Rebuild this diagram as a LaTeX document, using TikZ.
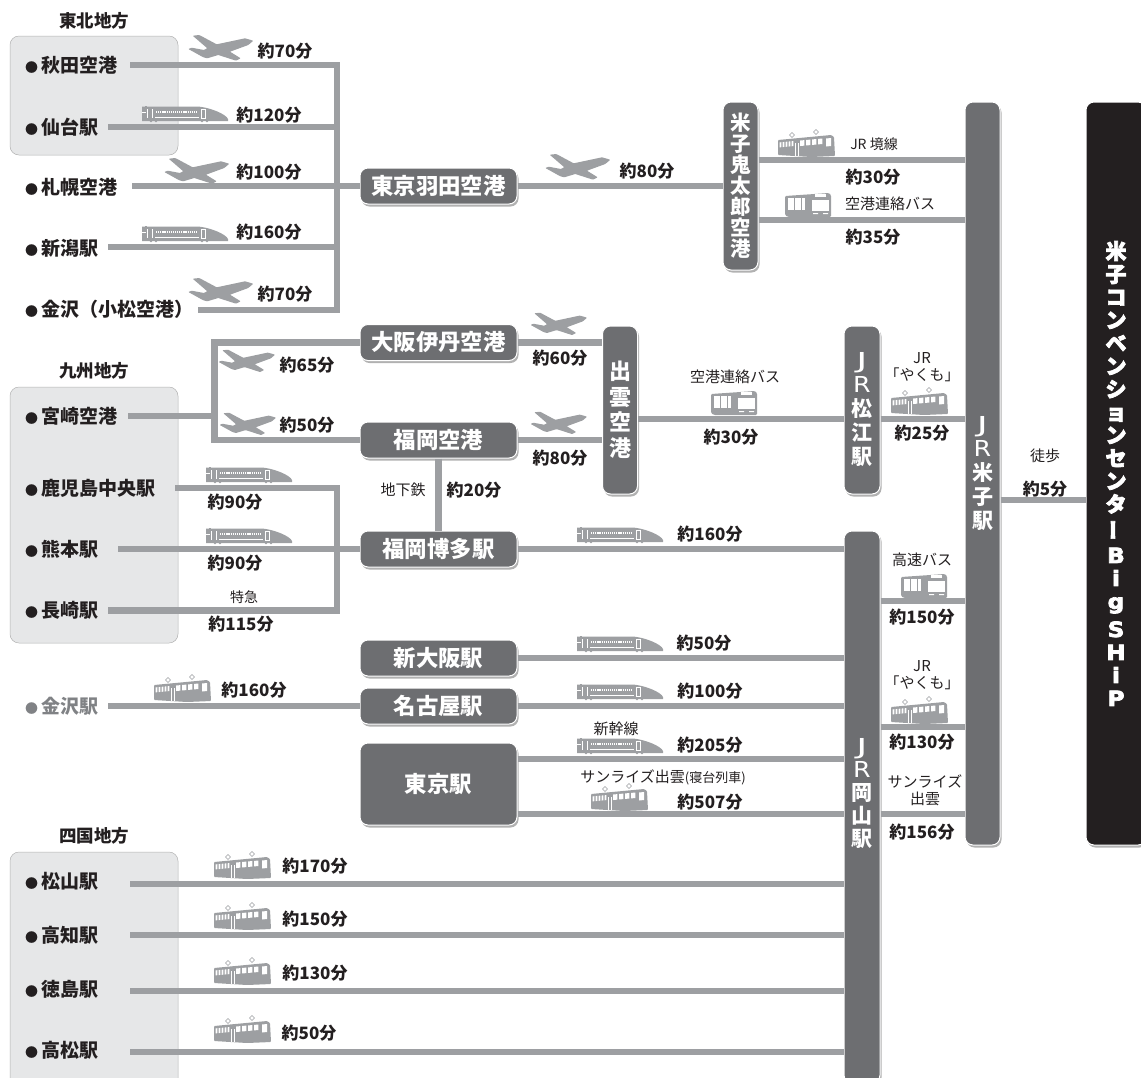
\documentclass[tikz,border=0pt]{standalone}
\usepackage{fontspec}
\setmainfont{Noto Sans CJK JP}
\newfontfamily\widef{DejaVu Sans}
\usetikzlibrary{shadows}
\definecolor{ink}{HTML}{231F20}
\definecolor{hubc}{HTML}{6D6E71}
\definecolor{railc}{HTML}{9D9FA2}
\definecolor{groupc}{HTML}{E6E7E8}
\definecolor{greyt}{HTML}{808285}
\newcommand{\fs}[2]{\fontsize{#1}{#2}\selectfont}
\newcommand{\bul}{\makebox[19pt][c]{\fs{13}{15}●}}
\newcommand{\jj}{{\widef\mdseries\fs{22}{24}\scalebox{1.7}[1]{J}}}
\newcommand{\rr}{{\widef\mdseries\fs{22}{24}\scalebox{1.15}[1]{R}}}
\newcommand{\wl}[1]{{\widef\bfseries\fs{21}{23}\scalebox{1.1}[1]{#1}}}
\newcommand{\hv}[1]{\special{pdf:code 2 Tr 0.7 w}#1\special{pdf:code 0 Tr}}
\tikzset{
  x=1pt,y=-1pt,
  groupbox/.style={draw=black!30,line width=.5pt,fill=groupc,rounded corners=9pt},
  hub/.style={fill=hubc,draw=white,line width=1pt,rounded corners=8pt,inner sep=0pt,text=white,align=center,
     font=\fs{22.4}{24}\bfseries,minimum width=#1,
     drop shadow={shadow xshift=1.5pt,shadow yshift=-2.5pt,fill=black!38,opacity=.8}},
  hub/.default=157pt,
  rail/.style={draw=railc,line width=6.2pt,line join=miter},
  stn/.style={anchor=west,inner sep=0pt,text=ink,font=\fs{19}{21}\bfseries},
  tm/.style={inner sep=0pt,text=ink,font=\fs{17}{19}\bfseries},
  sm/.style={inner sep=0pt,text=ink,align=center,font=\fs{15}{17}},
  grp/.style={inner sep=0pt,text=ink,font=\fs{17.5}{19}\bfseries},
  plane/.pic={\fill[railc,rounded corners=.7pt] (32.3,-7.3) -- (27.3,-3) -- (9,3.7) -- (19.7,10.3) -- (15,12.7) -- (-2.7,7) -- (-13.7,10.3) -- (-17.7,9.3) -- (-32.7,1)
     -- (-29.3,-.3) -- (-17,2) -- (-13.7,.3) -- (-28.3,-12.3) -- (-21.7,-13) -- (-4.3,-3.7) -- (24,-9.7) -- cycle;},
  shink/.pic={\fill[railc] (0,-15.5) -- (56,-15.5) .. controls (68,-14.5) and (84,-8) .. (86,-3) -- (86,-1) -- (0,-1) -- cycle;
     \fill[railc] (3,-16.5) rectangle (5,-15);
     \draw[white,line width=1.8pt,dash pattern=on 1.2pt off .9pt] (14,-10) -- (55,-10);
     \draw[white,line width=.5pt] (5,-13) -- (5,-4) (10,-13) -- (10,-4) (13,-5) -- (57,-5);
     \draw[white,line width=.5pt] (59,-13) rectangle (63,-4);
     \draw[white,line width=.5pt] (0,-10) -- (4,-10);
     \fill[railc] (9,-1) circle (1.4) (14,-1) circle (1.4) (60,-1) circle (1.4) (65,-1) circle (1.4);},
  local/.pic={\fill[railc,rounded corners=.8pt] (0,-17) -- (53,-22) -- (56,-20) -- (57,-1) -- (33,0) -- (0,-2) -- cycle;
     \foreach \a in {1.5,4.5,7.5,10.5,13.5}{\fill[white] (\a,{-14.5-0.09*\a}) -- ++(1.9,-.18) -- ++(0,5) -- ++(-1.9,.18) -- cycle;}
     \foreach \a in {22,28,34,40}{\fill[white] (\a,{-14.5-0.09*\a}) -- ++(4.4,-.4) -- ++(0,5.5) -- ++(-4.4,.4) -- cycle;}
     \fill[white] (48,-18.5) -- (53,-19) -- (53,-11) -- (48,-10.5) -- cycle;
     \draw[white,line width=.5pt] (17,-14) -- (17,-1) (20,-14) -- (20,-1);
     \draw[railc,line width=.6pt,fill=white] (14,-24.5) -- (16.5,-22) -- (14,-19.5) -- (11.5,-22) -- cycle (38,-27.5) -- (40.5,-25) -- (38,-22.5) -- (35.5,-25) -- cycle;},
  busi/.pic={\fill[railc,rounded corners=1.2pt] (0,-21) -- (44,-24) -- (46,-22) -- (46,0) -- (3,0) -- (0,-2) -- cycle;
     \foreach \a in {2.5,6,9.5,13,16.5}{\fill[white] (\a,-19) rectangle (\a+3,-7);}
     \fill[white] (27,-17) rectangle (44,-6.5);
     \fill[white] (30,-23) rectangle (41,-20);
     \fill[white] (28,-4) rectangle (33,-2.8) (38,-4) rectangle (43,-2.8);},
}
\begin{document}
\begin{tikzpicture}
\clip (0,0) rectangle (1141,1077);
% region panels
\node[groupbox,minimum width=168pt,minimum height=119pt,inner sep=0pt] (gT) at (94,95.5) {};
\node[groupbox,minimum width=168pt,minimum height=256pt,inner sep=0pt] (gK) at (94,515) {};
\node[groupbox,minimum width=168pt,minimum height=245pt,inner sep=0pt] (gS) at (94,974.5) {};
\node[grp] (tT) at (94,21) {東北地方};
\node[grp] (tK) at (94,371) {九州地方};
\node[grp] (tS) at (94,836) {四国地方};
% stations
\node[stn] (n1) at (22,65) {\bul 秋田空港};
\node[stn] (n2) at (22,127) {\bul 仙台駅};
\node[stn] (n3) at (22,187) {\bul 札幌空港};
\node[stn] (n4) at (22,248) {\bul 新潟駅};
\node[stn] (n5) at (22,309) {\bul 金沢（小松空港）};
\node[stn] (n6) at (22,416) {\bul 宮崎空港};
\node[stn] (n7) at (22,488) {\bul 鹿児島中央駅};
\node[stn] (n8) at (22,549) {\bul 熊本駅};
\node[stn] (n9) at (22,610) {\bul 長崎駅};
\node[stn,text=greyt] (n10) at (22,706) {\bul 金沢駅};
\node[stn] (n11) at (22,881) {\bul 松山駅};
\node[stn] (n12) at (22,935) {\bul 高知駅};
\node[stn] (n13) at (22,989) {\bul 徳島駅};
\node[stn] (n14) at (22,1050) {\bul 高松駅};
% hubs
\node[hub,minimum height=36pt] (haneda) at (438.5,186) {東京羽田空港};
\node[hub,minimum height=36pt] (itami) at (438.5,342.5) {大阪伊丹空港};
\node[hub,minimum height=36pt] (fukuoka) at (438.5,440) {福岡空港};
\node[hub,minimum height=36pt] (hakata) at (438.5,549) {福岡博多駅};
\node[hub,minimum height=36pt] (shinosaka) at (438.5,658) {新大阪駅};
\node[hub,minimum height=36pt] (nagoya) at (438.5,706) {名古屋駅};
\node[hub,minimum height=82pt] (tokyo) at (438.5,784) {東京駅};
\node[hub=35pt,minimum height=168pt,font=\bfseries\fs{20.5}{21}] (yonagoAP) at (740.5,186) {米\\子\\鬼\\太\\郎\\空\\港};
\node[hub=35pt,minimum height=168pt,font=\bfseries\fs{22}{25.5}] (izumo) at (620,410) {出\\雲\\空\\港};
\node[hub=36pt,minimum height=168pt,font=\bfseries\fs{21}{24}] (matsue) at (862,410) {\jj\\\rr\\松\\江\\駅};
\node[hub=36pt,minimum height=552pt] (okayama) at (862,807) {};
\node[inner sep=0pt,align=center,text=white,font=\bfseries\fs{21}{23}] (okaT) at (862,793) {\jj\\\rr\\岡\\山\\駅};
\node[hub=35pt,minimum height=743pt,font=\bfseries\fs{21}{24}] (yonago) at (982.5,473.5) {\jj\\\rr\\米\\子\\駅};
\node[fill=ink,draw=white,line width=1pt,rounded corners=8pt,inner sep=0pt,text=white,align=center,
   font=\bfseries\fs{21}{23},minimum width=60pt,minimum height=743pt,
   drop shadow={shadow xshift=1.5pt,shadow yshift=-2.5pt,fill=black!38,opacity=.8}] (ship) at (1116,473.5)
   {\hv{米}\\\hv{子}\\\hv{コ}\\\hv{ン}\\\hv{ベ}\\\hv{ン}\\\hv{シ}\\\hv{ョ}\\\hv{ン}\\\hv{セ}\\\hv{ン}\\\hv{タ}\\\rotatebox[origin=c]{90}{\hv{ー}}\\[5pt]\hv{\wl{B}}\\\hv{\wl{i}}\\\hv{\wl{g}}\\[5pt]\hv{\wl{S}}\\\hv{\wl{H}}\\\hv{\wl{i}}\\\hv{\wl{P}}};
% junction coordinates
\coordinate (jT) at (337,65);
\coordinate (jB) at (337,310);
\coordinate (s1) at (130,65);
\coordinate (s2) at (108,127);
\coordinate (s3) at (132,186);
\coordinate (s4) at (108,247);
\coordinate (s5) at (198,310);
\draw[rail] (s1) -- (jT) -- (jB) -- (s5);
\draw[rail] (s2) -- (s2 -| jT);
\draw[rail] (s4) -- (s4 -| jT);
\draw[rail] (s3) -- (haneda);
\draw[rail] (haneda) -- (yonagoAP);
\draw[rail] (yonagoAP.east |- 0,160) -- (yonago.west |- 0,160);
\draw[rail] (yonagoAP.east |- 0,220) -- (yonago.west |- 0,220);
% Kyushu
\coordinate (jO) at (214.5,342.5);
\coordinate (jF) at (214.5,440);
\coordinate (s6) at (128,416);
\draw[rail] (itami) -- (jO) -- (jF) -- (fukuoka);
\draw[rail] (s6) -- (s6 -| jO);
\draw[rail] (itami) -- (izumo.west |- itami);
\draw[rail] (fukuoka) -- (izumo.west |- fukuoka);
\coordinate (a419) at (700,419);
\draw[rail] (izumo.east |- a419) -- (matsue.west |- a419);
\draw[rail] (matsue.east |- a419) -- (yonago.west |- a419);
\draw[rail] (fukuoka) -- (hakata);
\coordinate (jK) at (337,488);
\coordinate (jN) at (337,610.5);
\coordinate (s7) at (175,488);
\coordinate (s8) at (118,549);
\coordinate (s9) at (108,610.5);
\draw[rail] (s7) -- (jK) -- (jN) -- (s9);
\draw[rail] (s8) -- (hakata);
\draw[rail] (hakata) -- (okayama.west |- hakata);
\draw[rail] (shinosaka) -- (okayama.west |- shinosaka);
\coordinate (s10) at (108,706);
\draw[rail] (s10) -- (nagoya);
\draw[rail] (nagoya) -- (okayama.west |- nagoya);
\draw[rail] (tokyo.east |- 0,759) -- (okayama.west |- 0,759);
\draw[rail] (tokyo.east |- 0,814) -- (okayama.west |- 0,814);
\coordinate (s11) at (130,884);
\coordinate (s12) at (130,935);
\coordinate (s13) at (130,991);
\coordinate (s14) at (130,1052);
\draw[rail] (s11) -- (okayama.west |- s11);
\draw[rail] (s12) -- (okayama.west |- s12);
\draw[rail] (s13) -- (okayama.west |- s13);
\draw[rail] (s14) -- (okayama.west |- s14);
\draw[rail] (okayama.east |- 0,601) -- (yonago.west |- 0,601);
\draw[rail] (okayama.east |- 0,727) -- (yonago.west |- 0,727);
\draw[rail] (okayama.east |- 0,814) -- (yonago.west |- 0,814);
\draw[rail] (yonago.east |- 0,500) -- (ship.west |- 0,500);
% icons
\foreach \p in {(221,48),(197,171),(221,291),(578,167)} \path \p pic {plane};
\foreach \p in {(247,361),(248,424),(559,324),(559,423)} \path \p pic[scale=.87] {plane};
\foreach \p in {(142,122),(142,242),(206,483),(206,544),(577,543),(577,652),(577,700),(577,754)} \path \p pic {shink};
\foreach \p in {(778,157),(154,702),(891,415),(891,724),(591,811),(214,879),(214,930),(214,985),(214,1043)} \path \p pic {local};
\foreach \p in {(785,217),(711,415),(901,598)} \path \p pic {busi};
% labels
\node[tm] (l1) at (285,51) {約70分};
\node[tm] (l2) at (269,115) {約120分};
\node[tm] (l3) at (269,172) {約100分};
\node[tm] (l4) at (269,232) {約160分};
\node[tm] (l5) at (285,294) {約70分};
\node[tm] (l6) at (647,171) {約80分};
\node[sm,font=\fs{14}{17}] (l7) at (874,144) {JR 境線};
\node[tm] (l8) at (873,177) {約30分};
\node[sm] (l9) at (890,204) {空港連絡バス};
\node[tm] (l10) at (873,237) {約35分};
\node[tm] (l11) at (307,365) {約65分};
\node[tm] (l12) at (307,425) {約50分};
\node[tm] (l13) at (560,358) {約60分};
\node[tm] (l14) at (560,458) {約80分};
\node[sm] (l15) at (735,377) {空港連絡バス};
\node[tm] (l16) at (731,437) {約30分};
\node[sm] (l17) at (922,367) {JR\\「やくも」};
\node[tm] (l18) at (922,433) {約25分};
\node[sm] (l19) at (1045,456) {徒歩};
\node[tm] (l20) at (1045,489) {約5分};
\node[sm] (l21) at (403,490) {地下鉄};
\node[tm] (l22) at (474,490) {約20分};
\node[tm] (l23) at (235,502) {約90分};
\node[tm] (l24) at (235,563) {約90分};
\node[sm,font=\fs{14}{17}] (l25) at (244,597) {特急};
\node[tm] (l26) at (241,624) {約115分};
\node[tm] (l27) at (710,534) {約160分};
\node[tm] (l28) at (704,643) {約50分};
\node[tm] (l29) at (710,691) {約100分};
\node[tm] (l30) at (254,690) {約160分};
\node[sm] (l31) at (616,729) {新幹線};
\node[tm] (l32) at (710,745) {約205分};
\node[sm] (l33) at (663,777) {サンライズ出雲\fs{13}{14}(寝台列車)};
\node[tm] (l34) at (710,802) {約507分};
\node[sm] (l35) at (922,560) {高速バス};
\node[tm] (l36) at (922,617) {約150分};
\node[sm] (l37) at (922,675) {JR\\「やくも」};
\node[tm] (l38) at (922,742) {約130分};
\node[sm] (l39) at (925,790) {サンライズ\\出雲};
\node[tm] (l40) at (922,832) {約156分};
\node[tm] (l41) at (315,866) {約170分};
\node[tm] (l42) at (315,919) {約150分};
\node[tm] (l43) at (315,973) {約130分};
\node[tm] (l44) at (309,1033) {約50分};
\end{tikzpicture}
\end{document}
